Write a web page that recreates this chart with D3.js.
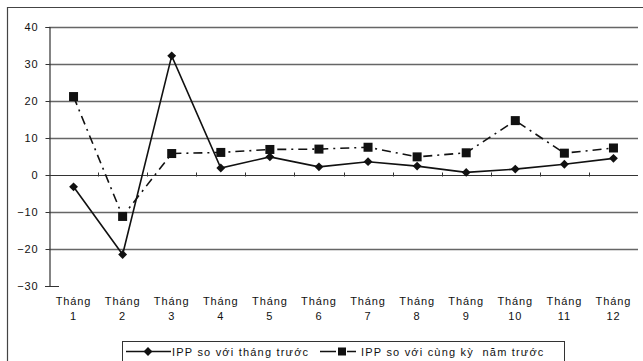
<!DOCTYPE html>
<html>
<head>
<meta charset="utf-8">
<script src="https://cdn.jsdelivr.net/npm/d3@7"></script>
<style>
  body { margin: 0; background: #fff; }
  svg text { font-family: "Liberation Sans", Arial, sans-serif; fill: #111; letter-spacing: 0.9px; }
  .legend text { letter-spacing: 1.2px; white-space: pre; }
</style>
</head>
<body>
<svg id="chart" width="643" height="361"></svg>
<script>
// categories and series
const months = ["1","2","3","4","5","6","7","8","9","10","11","12"];
const prevMonth = [-3.2, -21.5, 32.2, 1.9, 4.9, 2.2, 3.6, 2.4, 0.7, 1.6, 2.9, 4.5];
const prevYear  = [21.2, -11.2, 5.8, 6.1, 6.9, 7.0, 7.5, 4.9, 6.0, 14.7, 5.9, 7.3];
const yTicks = [-30, -20, -10, 0, 10, 20, 30, 40];
const gridTicks = [-20, -10, 10, 20, 30, 40];
const legendNames = ["IPP so với tháng trước", "IPP so với cùng kỳ  năm trước"];

const svg = d3.select("#chart");
const margin = {left: 49, right: 5, top: 27, bottom: 75};
const W = 643, H = 361;

// outer frame (only top/left survive in the scan)
svg.append("path")
  .attr("d", "M7.5,361 V7.5 H643")
  .attr("fill", "none").attr("stroke", "#444").attr("stroke-width", 1.2);

const x = d3.scaleBand().domain(months).range([margin.left, W - margin.right]);
const y = d3.scaleLinear().domain([-30, 40]).range([H - margin.bottom, margin.top]);
const cx = d => x(d) + x.bandwidth() / 2;

// gridlines, drawn as long inner ticks
const gridG = svg.append("g")
  .attr("transform", `translate(${W - margin.right},0)`)
  .call(d3.axisLeft(y).tickValues(gridTicks).tickSize(W - margin.right - margin.left).tickFormat(""));
gridG.select(".domain").remove();
gridG.selectAll(".tick line").attr("stroke", "#666").attr("stroke-width", 1.3);

// y axis
const yAxis = svg.append("g")
  .attr("transform", `translate(${margin.left + 0.5},0)`)
  .call(d3.axisLeft(y).tickValues(yTicks).tickSize(4).tickPadding(7));
yAxis.select(".domain").attr("stroke", "#333").attr("stroke-width", 1.2);
yAxis.selectAll(".tick line").attr("stroke", "#333");
yAxis.selectAll("text").style("font-size", "11px").attr("font-family", null);

// zero line with category ticks
const y0 = Math.round(y(0)) + 0.5;
svg.append("line")
  .attr("x1", margin.left).attr("x2", W - margin.right)
  .attr("y1", y0).attr("y2", y0).attr("stroke", "#333").attr("stroke-width", 1.2);
svg.append("g").selectAll("line")
  .data(months.slice(1))
  .join("line")
  .attr("x1", d => Math.round(x(d)) + 0.5).attr("x2", d => Math.round(x(d)) + 0.5)
  .attr("y1", y0 - 3).attr("y2", y0 + 1)
  .attr("stroke", "#333");
// bottom line at -30
const yb = Math.round(y(-30)) + 0.5;
svg.append("line")
  .attr("x1", margin.left - 4).attr("x2", margin.left + 10)
  .attr("y1", yb).attr("y2", yb).attr("stroke", "#333");

// category labels
const xl = svg.append("g").selectAll("text").data(months).join("text")
  .attr("text-anchor", "middle").style("font-size", "11px");
xl.append("tspan").attr("x", d => cx(d)).attr("y", 305).text("Tháng");
xl.append("tspan").attr("x", d => cx(d)).attr("y", 320).text(d => d);

// series
const line = d3.line().x((d, i) => cx(months[i])).y(d => y(d));
svg.append("path").datum(prevYear)
  .attr("d", line).attr("fill", "none")
  .attr("stroke", "#111").attr("stroke-width", 1.6)
  .attr("stroke-dasharray", "9,5,2,5");
svg.append("path").datum(prevMonth)
  .attr("d", line).attr("fill", "none")
  .attr("stroke", "#111").attr("stroke-width", 1.6);

const diamond = d3.symbol().type(d3.symbolDiamond2).size(50);
svg.append("g").selectAll("path").data(prevMonth).join("path")
  .attr("transform", (d, i) => `translate(${cx(months[i])},${y(d)})`)
  .attr("d", diamond).attr("fill", "#111");
svg.append("g").selectAll("rect").data(prevYear).join("rect")
  .attr("x", (d, i) => cx(months[i]) - 4.5).attr("y", d => y(d) - 4.5)
  .attr("width", 9).attr("height", 9).attr("fill", "#111");

// legend
const lg = svg.append("g").attr("class", "legend");
lg.append("rect").attr("x", 122.5).attr("y", 341.5).attr("width", 442).attr("height", 20)
  .attr("fill", "#fff").attr("stroke", "#333");
const ly = 351.5;
lg.append("line").attr("x1", 126).attr("x2", 171).attr("y1", ly).attr("y2", ly)
  .attr("stroke", "#111").attr("stroke-width", 1.6);
lg.append("path").attr("transform", `translate(148,${ly})`).attr("d", diamond).attr("fill", "#111");
lg.append("text").attr("x", 172).attr("y", ly + 4).style("font-size", "11px").text(legendNames[0]);
lg.append("line").attr("x1", 320).attr("x2", 357).attr("y1", ly).attr("y2", ly)
  .attr("stroke", "#111").attr("stroke-width", 1.6).attr("stroke-dasharray", "16,11,9");
lg.append("rect").attr("x", 338).attr("y", ly - 4).attr("width", 8).attr("height", 8).attr("fill", "#111");
lg.append("text").attr("x", 361).attr("y", ly + 4).style("font-size", "11px").text(legendNames[1]);
</script>
</body>
</html>
